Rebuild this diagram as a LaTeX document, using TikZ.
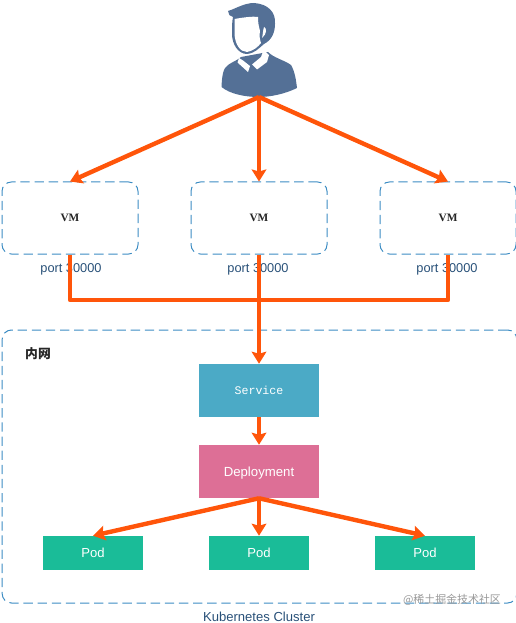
\documentclass[tikz,border=0pt]{standalone}
\usepackage{fontspec}
\setmainfont{Liberation Sans}
\newfontfamily\cjkfont{Noto Sans CJK SC}
\newfontfamily\codefont{Liberation Mono}
\newfontfamily\vmfont{Liberation Serif}
\usepackage{tikz}
\usetikzlibrary{arrows.meta,positioning}
\definecolor{UserBlue}{RGB}{84,112,150}
\definecolor{DashBlue}{RGB}{60,140,195}
\definecolor{LineOrange}{RGB}{255,85,10}
\definecolor{ServiceBlue}{RGB}{75,170,198}
\definecolor{DeployPink}{RGB}{221,111,150}
\definecolor{PodGreen}{RGB}{26,188,152}
\definecolor{PortText}{RGB}{40,80,120}

\begin{document}
\begin{tikzpicture}[x=0.75pt, y=-0.75pt,
        vmbox/.style={draw=DashBlue, dash pattern=on 7pt off 3.6pt, rounded corners=7pt, line width=0.75pt,
                    minimum width=102pt, minimum height=54pt, align=center, inner sep=0pt,
                    font=\vmfont\fontsize{8.5}{9}\selectfont\bfseries, text=black!85},
        portlabel/.style={font=\fontsize{9.6}{10}\selectfont, text=PortText, text depth=0pt},
        block/.style={minimum width=90pt, minimum height=39.75pt, inner sep=0pt, text=white},
        podbox/.style={fill=PodGreen, minimum width=75pt, minimum height=25.5pt, inner sep=0pt,
                    text=white, font=\fontsize{9.8}{10}\selectfont},
        arr/.style={-{Stealth[inset=1.5pt, length=9pt, width=11pt]}, line width=3.3pt, draw=LineOrange},
        trunk/.style={line width=3.3pt, draw=LineOrange, line join=round}
]
    \useasboundingbox (0,0) rectangle (516,623);
    % cluster frame
    \node[draw=DashBlue, dash pattern=on 7pt off 3.6pt, rounded corners=7pt, line width=0.75pt,
          minimum width=386pt, minimum height=204.75pt, inner sep=0pt] (cluster) at (259.5,466.5) {};
    \node[font=\cjkfont\fontsize{9.6}{10}\selectfont\bfseries, text=black!85] (inner) at (38,354) {内网};
    \node[font=\fontsize{9.8}{10}\selectfont, text=PortText] (clustername) at (259,617) {Kubernetes Cluster};
    \node[font=\cjkfont\fontsize{8.2}{10}\selectfont, text=black!40] (mark) at (452,600) {@稀土掘金技术社区};

    % user
    \coordinate (user) at (259,97);
    \fill[UserBlue] (221.5,87) .. controls (222,76) and (223,68) .. (228,65)
        .. controls (232,62) and (238,60) .. (241,57) -- (268,52)
        .. controls (274,58) and (284,60) .. (291,65)
        .. controls (295,72) and (296,80) .. (297,88)
        .. controls (285,94) and (270,97) .. (259,97)
        .. controls (245,97) and (230,94) .. (221.5,87) -- cycle;
    \fill[white] (239,58) -- (237.5,62.5) -- (248,72) -- (250,66) -- (243,60.5) -- cycle;
    \fill[white] (263.5,50) -- (269,55) -- (267,62) -- (257,69.5) -- (252,64.5) -- (261,57) -- cycle;
    \fill[UserBlue] (228,11) .. controls (235,9) and (244,3) .. (254,3)
        .. controls (268,4) and (276,12) .. (275,24)
        .. controls (275,32) and (272,40) .. (264,44)
        .. controls (258,49) and (255,53) .. (247,54)
        .. controls (238,54) and (232,44) .. (232,34)
        .. controls (232,26) and (232,22) .. (233,17)
        .. controls (230,17) and (228,14) .. (228,11) -- cycle;
    \fill[white] (234.5,19) .. controls (240,18) and (252,16) .. (258,17)
        .. controls (258,24) and (259,27) .. (260,31)
        .. controls (259,36) and (260,40) .. (261,43)
        .. controls (258,47) and (253,51) .. (247,52)
        .. controls (240,52) and (235,44) .. (234.5,34) -- cycle;
    \fill[white] (264,27) .. controls (267,28) and (267,34) .. (262,38) .. controls (263,34) and (263,30) .. (264,27) -- cycle;

    % VMs
    \node[vmbox] (vm1) at (70,218) {VM};
    \node[vmbox] (vm2) at (259,218) {VM};
    \node[vmbox] (vm3) at (448,218) {VM};
    \node[portlabel] (port1) at (71,268) {port 30000};
    \node[portlabel] (port2) at (258,268) {port 30000};
    \node[portlabel] (port3) at (447,268) {port 30000};

    % workloads
    \node[block, fill=ServiceBlue, font=\codefont\fontsize{8.7}{10}\selectfont] (service) at (259,390.5) {Service};
    \node[block, fill=DeployPink, font=\fontsize{9.9}{10}\selectfont, text depth=0pt] (deploy) at (259,471.5) {Deployment};
    \node[podbox] (pod1) at (93,553) {Pod};
    \node[podbox] (pod2) at (259,553) {Pod};
    \node[podbox] (pod3) at (425,553) {Pod};

    \coordinate (join1) at (70,300);
    \coordinate (join3) at (448,300);

    \draw[arr] (user) -- (vm1.north);
    \draw[arr] (user) -- (vm2.north);
    \draw[arr] (user) -- (vm3.north);
    \draw[trunk] (vm1.south) -- (join1) -- (join3) -- (vm3.south);
    \draw[arr] (vm2.south) -- (service.north);
    \draw[arr] (service) -- (deploy);
    \draw[arr] (deploy.south) -- (pod1.north);
    \draw[arr] (deploy.south) -- (pod2.north);
    \draw[arr] (deploy.south) -- (pod3.north);
\end{tikzpicture}
\end{document}
